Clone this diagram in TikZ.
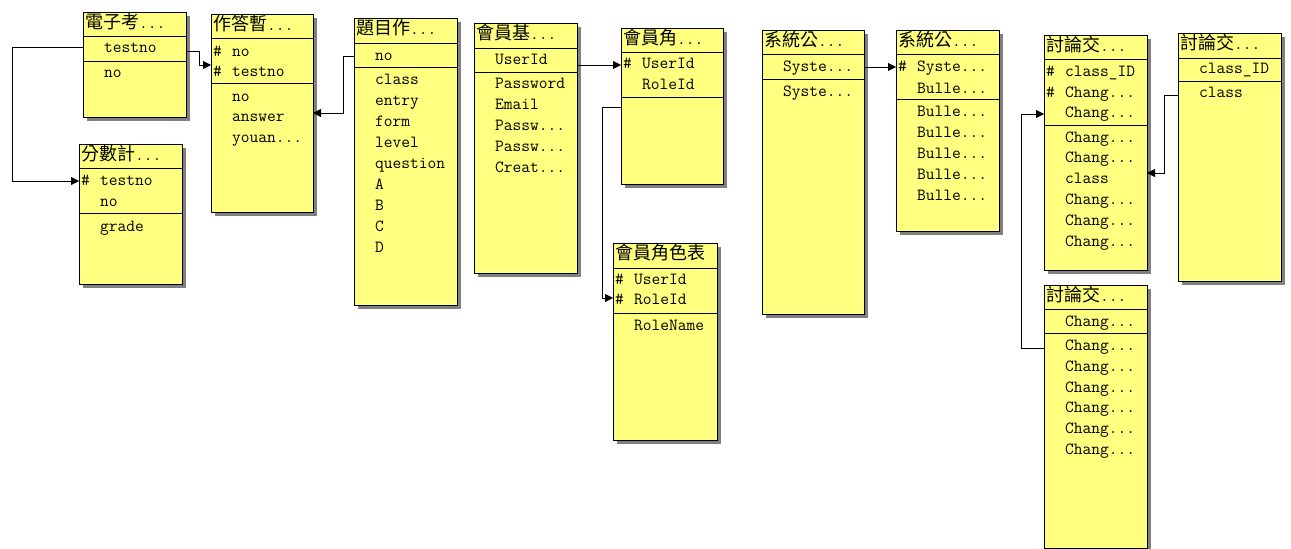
\documentclass[tikz,border=0pt]{standalone}
\usepackage{fontspec}
\usetikzlibrary{arrows.meta}
\newfontfamily\cjk{Noto Sans CJK TC}
\newcommand\mono{\ttfamily}
\definecolor{boxfill}{RGB}{255,255,128}
\definecolor{shadowc}{RGB}{128,128,128}
\tikzset{
  ebox/.style={draw=black, fill=boxfill, line width=0.9pt, inner sep=0pt, outer sep=0pt},
  sepline/.style={black, line width=0.9pt},
  attr/.style={anchor=west, inner sep=0pt, font=\mono\fontsize{17}{17}\selectfont, text height=11pt, text depth=2pt},
  ttl/.style={anchor=west, inner sep=0pt, text height=12pt, text depth=3pt},
  conn/.style={black, line width=0.8pt, -{Triangle[length=8pt,width=8pt]}}
}
\newcommand\erbox[7]{%
  \fill[shadowc] ({#2+4},{#3+4}) rectangle ({#4+4},{#5+4});
  \node[ebox, minimum width={#4-#2}, minimum height={#5-#3}, anchor=north west] (#1) at (#2,#3) {};
  \draw[sepline] (#2,#6) -- (#4,#6);
  \draw[sepline] (#2,#7) -- (#4,#7);
}
\newcommand\ttlnode[4]{\node[ttl] (#1) at ({#2+2},#3) {{\cjk\fontsize{18}{18}\selectfont #4}{\mono\fontsize{17}{17}\selectfont ...}};}
\newcommand\ttlfull[4]{\node[ttl] (#1) at ({#2+2},#3) {{\cjk\fontsize{18}{18}\selectfont #4}};}
\newcommand\rw[4]{\node[attr] (#1) at ({#2+21},#3) {#4};}
\newcommand\pk[3]{\node[attr] (#1) at ({#2+2},#3) {\#};}
\begin{document}
\begin{tikzpicture}[x=1pt,y=-1pt]
\useasboundingbox[fill=white] (0,0) rectangle (1291,549);
% box 1
\erbox{e1}{83}{12}{186}{117}{36}{61}
\ttlnode{e1t}{83}{24}{電子考}
\rw{e1a}{83}{48}{testno}
\rw{e1b}{83}{73}{no}
% box 2
\erbox{e2}{79}{144}{182}{284}{168}{213}
\ttlnode{e2t}{79}{156}{分數計}
\pk{e2p}{79}{181}\rw{e2a}{79}{181}{testno}
\rw{e2b}{79}{202}{no}
\rw{e2c}{79}{227}{grade}
% box 3
\erbox{e3}{211}{14}{313}{212}{38}{83}
\ttlnode{e3t}{211}{26}{作答暫}
\pk{e3p}{211}{52}\rw{e3a}{211}{52}{no}
\pk{e3q}{211}{72}\rw{e3b}{211}{72}{testno}
\rw{e3c}{211}{97}{no}
\rw{e3d}{211}{117}{answer}
\rw{e3e}{211}{138}{youan...}
% box 4
\erbox{e4}{354}{18}{457}{305}{43}{67}
\ttlnode{e4t}{354}{30}{題目作}
\rw{e4a}{354}{56}{no}
\rw{e4b}{354}{80}{class}
\rw{e4c}{354}{101}{entry}
\rw{e4d}{354}{122}{form}
\rw{e4e}{354}{143}{level}
\rw{e4f}{354}{164}{question}
\rw{e4g}{354}{185}{A}
\rw{e4h}{354}{206}{B}
\rw{e4i}{354}{227}{C}
\rw{e4j}{354}{248}{D}
% box 5
\erbox{e5}{474}{23}{577}{273}{48}{72}
\ttlnode{e5t}{474}{35}{會員基}
\rw{e5a}{474}{60}{UserId}
\rw{e5b}{474}{84}{Password}
\rw{e5c}{474}{105}{Email}
\rw{e5d}{474}{126}{Passw...}
\rw{e5e}{474}{147}{Passw...}
\rw{e5f}{474}{168}{Creat...}
% box 6
\erbox{e6}{621}{28}{723}{184}{52}{97}
\ttlnode{e6t}{621}{40}{會員角}
\pk{e6p}{621}{64}\rw{e6a}{621}{64}{UserId}
\rw{e6b}{621}{85}{RoleId}
% box 7
\erbox{e7}{613}{243}{717}{440}{268}{313}
\ttlfull{e7t}{613}{255}{會員角色表}
\pk{e7p}{613}{280}\rw{e7a}{613}{280}{UserId}
\pk{e7q}{613}{300}\rw{e7b}{613}{300}{RoleId}
\rw{e7c}{613}{326}{RoleName}
% box 8
\erbox{e8}{762}{30}{864}{314}{54}{79}
\ttlnode{e8t}{762}{42}{系統公}
\rw{e8a}{762}{67}{Syste...}
\rw{e8b}{762}{92}{Syste...}
% box 9
\erbox{e9}{896}{30}{999}{231}{54}{99}
\ttlnode{e9t}{896}{42}{系統公}
\pk{e9p}{896}{67}\rw{e9a}{896}{67}{Syste...}
\rw{e9b}{896}{89}{Bulle...}
\rw{e9c}{896}{112}{Bulle...}
\rw{e9d}{896}{133}{Bulle...}
\rw{e9e}{896}{154}{Bulle...}
\rw{e9f}{896}{175}{Bulle...}
\rw{e9g}{896}{196}{Bulle...}
% box 10
\erbox{e10}{1044}{35}{1147}{270}{59}{125}
\ttlnode{e10t}{1044}{47}{討論交}
\pk{e10p}{1044}{72}\rw{e10a}{1044}{72}{class\_ID}
\pk{e10q}{1044}{93}\rw{e10b}{1044}{93}{Chang...}
\rw{e10c}{1044}{113}{Chang...}
\rw{e10d}{1044}{138}{Chang...}
\rw{e10e}{1044}{158}{Chang...}
\rw{e10f}{1044}{179}{class}
\rw{e10g}{1044}{200}{Chang...}
\rw{e10h}{1044}{221}{Chang...}
\rw{e10i}{1044}{242}{Chang...}
% box 11
\erbox{e11}{1178}{33}{1281}{281}{58}{81}
\ttlnode{e11t}{1178}{45}{討論交}
\rw{e11a}{1178}{69}{class\_ID}
\rw{e11b}{1178}{93}{class}
% box 12
\erbox{e12}{1044}{285}{1147}{548}{309}{333}
\ttlnode{e12t}{1044}{297}{討論交}
\rw{e12a}{1044}{322}{Chang...}
\rw{e12b}{1044}{346}{Chang...}
\rw{e12c}{1044}{367}{Chang...}
\rw{e12d}{1044}{388}{Chang...}
\rw{e12e}{1044}{408}{Chang...}
\rw{e12f}{1044}{429}{Chang...}
\rw{e12g}{1044}{450}{Chang...}
% connectors
\draw[conn] (e1.west |- 0,47) -- (12,47) |- (e2.west |- 0,181);
\draw[conn] (e1.east |- 0,51) -- (199,51) |- (e3.west |- 0,65);
\draw[conn] (e4.west |- 0,56) -- (343,56) |- (e3.east |- 0,113);
\draw[conn] (e5.east |- 0,65) -- (e6.west |- 0,65);
\draw[conn] (e6.west |- 0,107) -- (602,107) |- (e7.west |- 0,298);
\draw[conn] (e8.east |- 0,67) -- (e9.west |- 0,67);
\draw[conn] (e11.west |- 0,95) -- (1164,95) |- (e10.east |- 0,173);
\draw[conn] (e12.west |- 0,348) -- (1021,348) |- (e10.west |- 0,114);
\end{tikzpicture}
\end{document}
